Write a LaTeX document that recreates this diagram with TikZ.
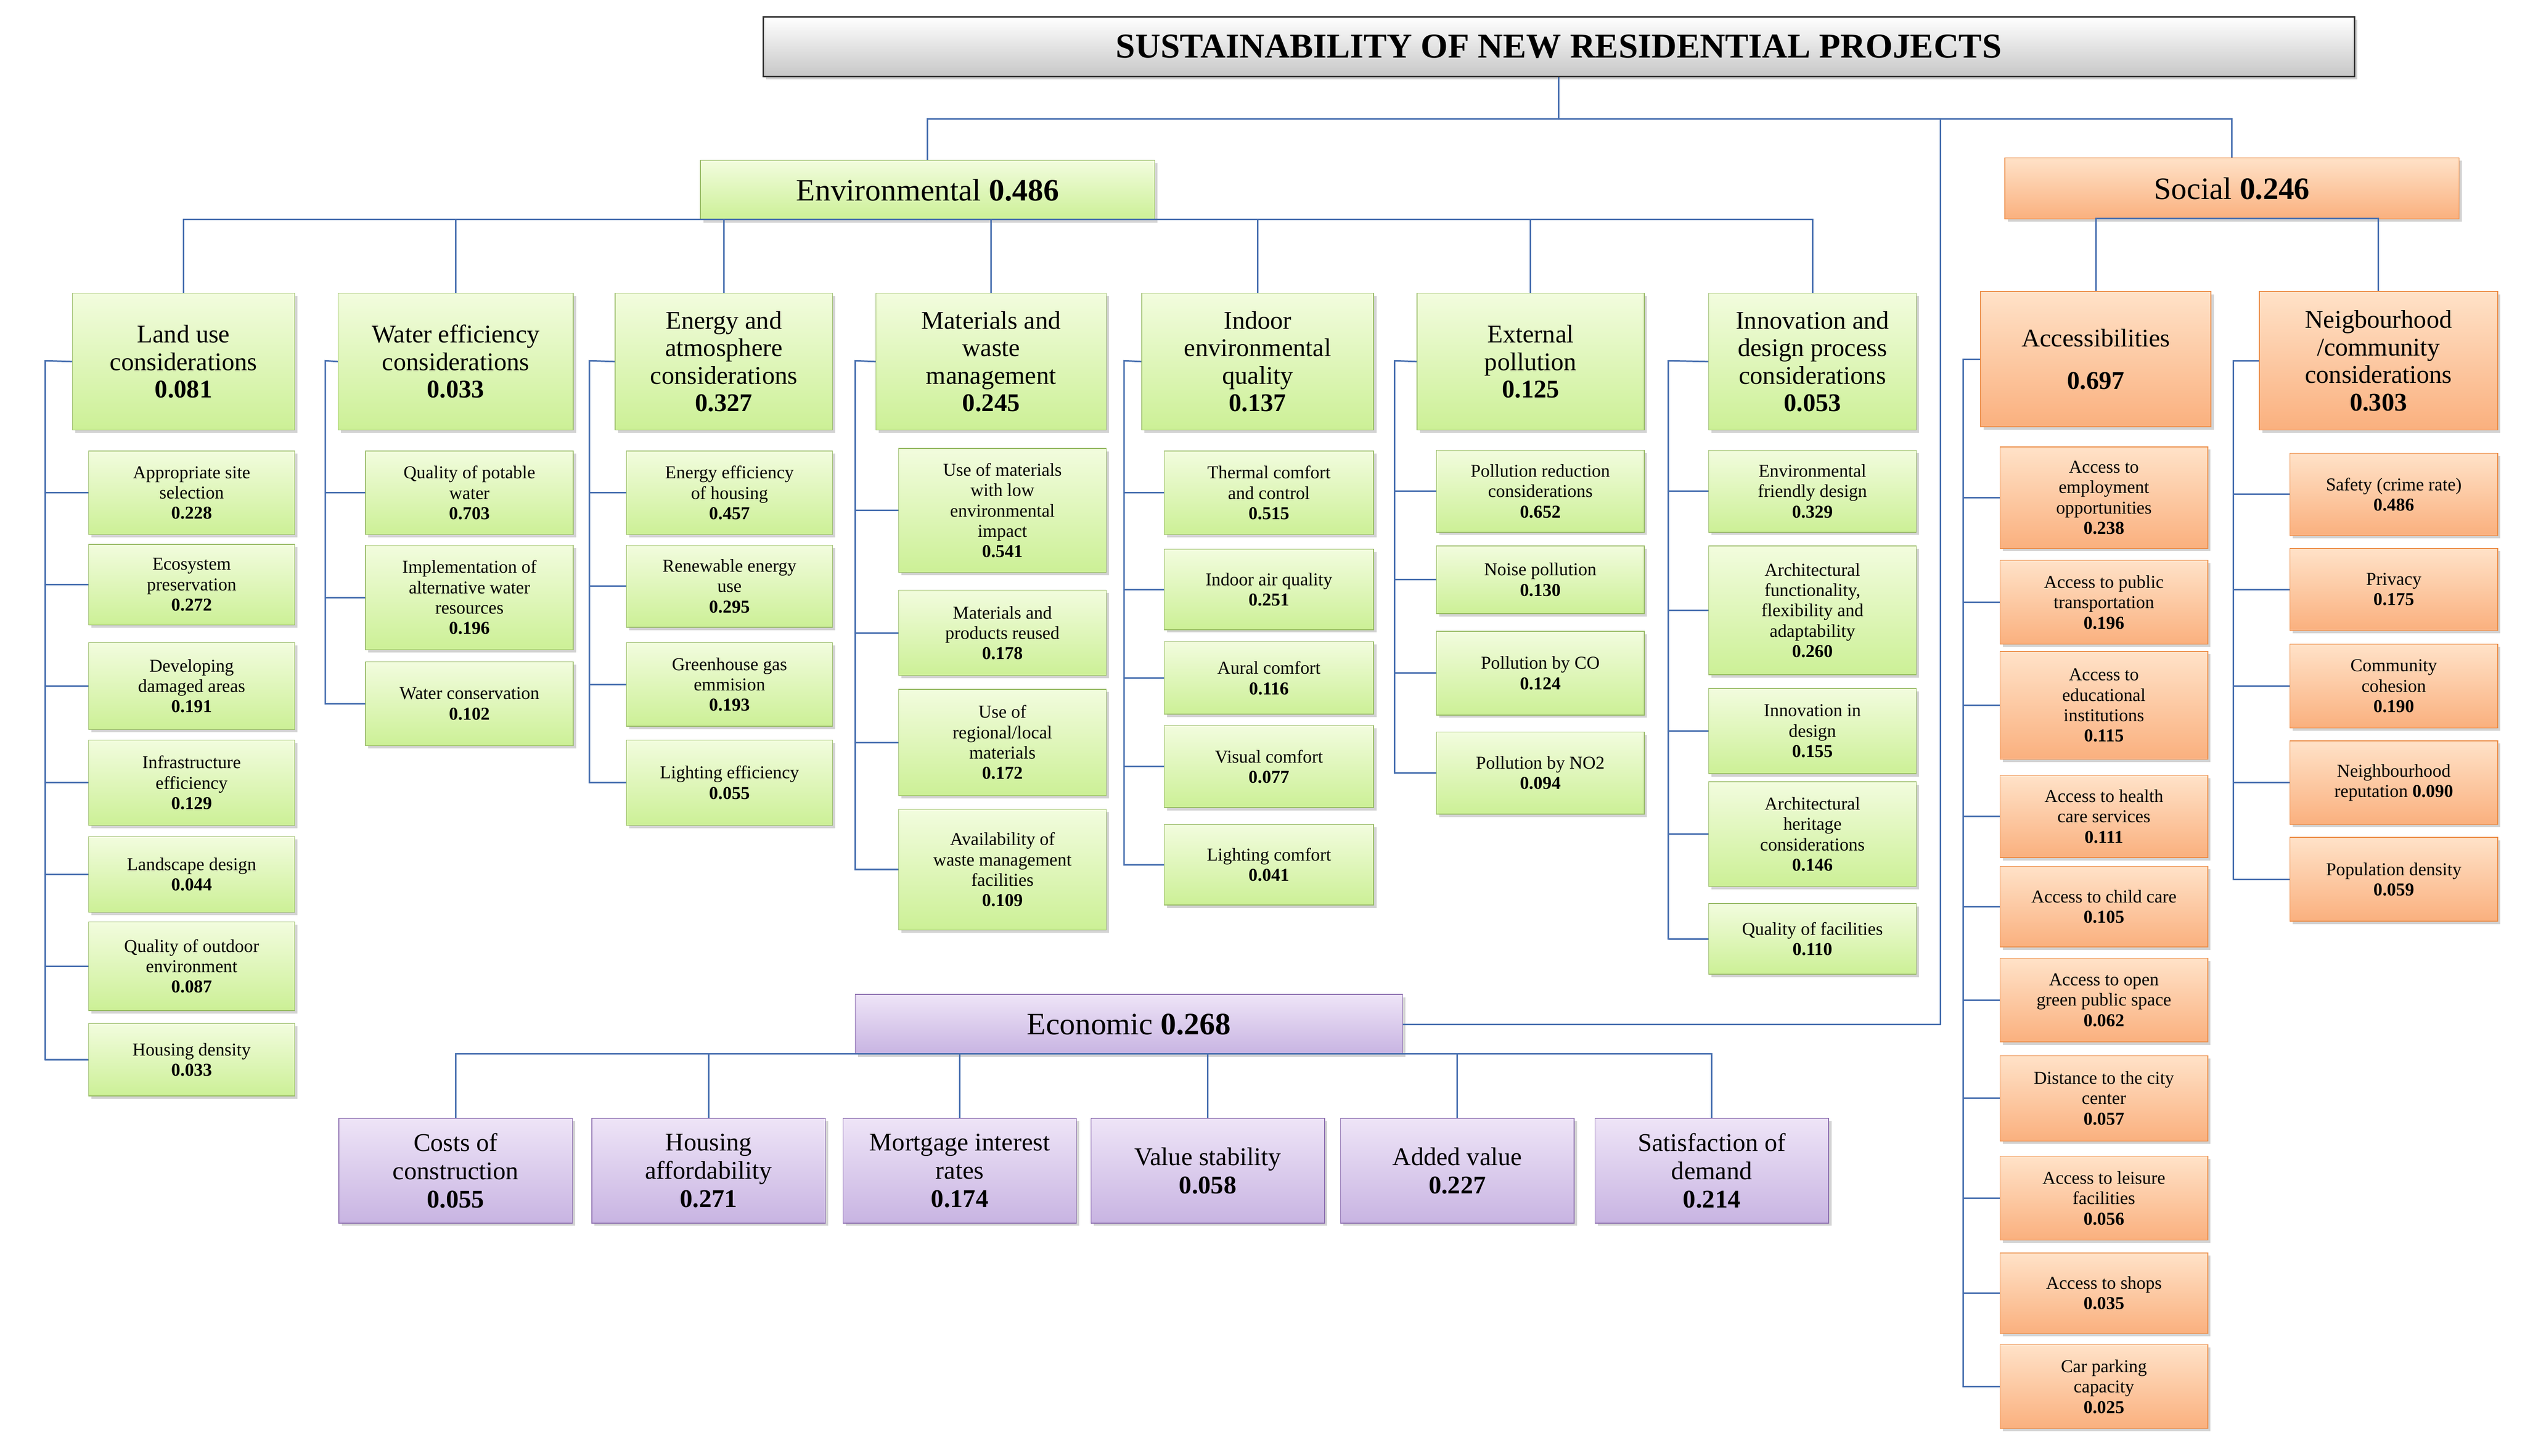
\documentclass[tikz,border=0pt]{standalone}
\usepackage{fontspec}
\setmainfont{Liberation Serif}
\usetikzlibrary{shadows}
\definecolor{envtop}{RGB}{242,252,222}
\definecolor{envbot}{RGB}{204,240,150}
\definecolor{envline}{RGB}{150,185,100}
\definecolor{soctop}{RGB}{255,226,200}
\definecolor{socbot}{RGB}{250,176,126}
\definecolor{socline}{RGB}{235,140,70}
\definecolor{ecotop}{RGB}{238,228,247}
\definecolor{ecobot}{RGB}{200,180,226}
\definecolor{ecoline}{RGB}{140,110,175}
\definecolor{linkblue}{RGB}{70,110,175}
\newcommand\itemfont{\fontsize{9.6}{10.8}\selectfont}
\newcommand\catfont{\fontsize{13.5}{14.6}\selectfont}
\tikzset{
  box/.style={draw, rectangle, align=center, inner sep=1pt,
    drop shadow={shadow xshift=1.5pt, shadow yshift=-1.5pt, opacity=0.35}},
  env/.style={box, draw=envline, top color=envtop, bottom color=envbot},
  soc/.style={box, draw=socline, top color=soctop, bottom color=socbot},
  eco/.style={box, draw=ecoline, top color=ecotop, bottom color=ecobot},
  link/.style={draw=linkblue, line width=0.8pt},
}
\begin{document}
\begin{tikzpicture}[x=0.03cm, y=-0.03cm]
\useasboundingbox (0,0) rectangle (1568,904);
% title and main branches
\node[box, draw=black!80, thick, top color=white, bottom color=black!22,
  minimum width=988*0.03cm, minimum height=37*0.03cm,
  font=\fontsize{18.5}{20}\selectfont\bfseries] (title) at (968,29) {SUSTAINABILITY OF NEW RESIDENTIAL PROJECTS};
\node[env, minimum width=282*0.03cm, minimum height=37*0.03cm, font=\fontsize{16.5}{18}\selectfont]
  (envir) at (576,118) {Environmental \textbf{0.486}};
\node[soc, minimum width=282*0.03cm, minimum height=38*0.03cm, font=\fontsize{16.5}{18}\selectfont]
  (social) at (1386,117) {Social \textbf{0.246}};
\node[eco, minimum width=340*0.03cm, minimum height=37*0.03cm, font=\fontsize{16.5}{18}\selectfont]
  (econ) at (701,636) {Economic \textbf{0.268}};
\coordinate (t1) at (968,74);
\coordinate (t2) at (1205,74);
\draw[link] (title.south) -- (t1);
\draw[link] (envir.north) |- (t1) -| (social.north);
\draw[link] (t2) |- (econ.east);

% environmental categories
\foreach \n/\x/\w/\t in {
  lu/114/138/{Land use\\considerations\\\textbf{0.081}},
  wa/283/146/{Water efficiency\\considerations\\\textbf{0.033}},
  en/449.5/135/{Energy and\\atmosphere\\considerations\\\textbf{0.327}},
  ma/615.5/143/{Materials and\\waste\\management\\\textbf{0.245}},
  in/781/144/{Indoor\\environmental\\quality\\\textbf{0.137}},
  ex/950.5/141/{External\\pollution\\\textbf{0.125}},
  id/1125.5/129/{Innovation and\\design process\\considerations\\\textbf{0.053}}}{
  \node[env, minimum width=\w*0.03cm, minimum height=85*0.03cm, font=\catfont] (\n) at (\x,224.5) {\t};
  \draw[link] (envir.south) -- ++(0,-20*0.03) -| (\n.north);
}

% land use
\coordinate (luB) at (28,224);
\foreach \y/\h/\t [count=\i] in {
  306/52/{Appropriate site\\selection\\\textbf{0.228}},
  363/50/{Ecosystem\\preservation\\\textbf{0.272}},
  426/54/{Developing\\damaged areas\\\textbf{0.191}},
  486/53/{Infrastructure\\efficiency\\\textbf{0.129}},
  543/47/{Landscape design\\\textbf{0.044}},
  600/55/{Quality of outdoor\\environment\\\textbf{0.087}},
  658/45/{Housing density\\\textbf{0.033}}}{
  \node[env, minimum width=128*0.03cm, minimum height=\h*0.03cm, font=\itemfont] (lu\i) at (119,\y) {\t};
  \draw[link] (luB |- lu\i.west) -- (lu\i.west);
}
\draw[link] (lu.west) -- (luB) |- (lu7.west);

% water
\coordinate (waB) at (202,224);
\foreach \y/\h/\t [count=\i] in {
  306/52/{Quality of potable\\water\\\textbf{0.703}},
  371/65/{Implementation of\\alternative water\\resources\\\textbf{0.196}},
  437/52/{Water conservation\\\textbf{0.102}}}{
  \node[env, minimum width=129*0.03cm, minimum height=\h*0.03cm, font=\itemfont] (wa\i) at (291.5,\y) {\t};
  \draw[link] (waB |- wa\i.west) -- (wa\i.west);
}
\draw[link] (wa.west) -- (waB) |- (wa3.west);

% energy
\coordinate (enB) at (366,224);
\foreach \y/\h/\t [count=\i] in {
  306/52/{Energy efficiency\\of housing\\\textbf{0.457}},
  364/51/{Renewable energy\\use\\\textbf{0.295}},
  425/52/{Greenhouse gas\\emmision\\\textbf{0.193}},
  486/53/{Lighting efficiency\\\textbf{0.055}}}{
  \node[env, minimum width=128*0.03cm, minimum height=\h*0.03cm, font=\itemfont] (en\i) at (453,\y) {\t};
  \draw[link] (enB |- en\i.west) -- (en\i.west);
}
\draw[link] (en.west) -- (enB) |- (en4.west);

% materials
\coordinate (maB) at (531,224);
\foreach \y/\h/\t [count=\i] in {
  317/77/{Use of materials\\with low\\environmental\\impact\\\textbf{0.541}},
  393/53/{Materials and\\products reused\\\textbf{0.178}},
  461/66/{Use of\\regional/local\\materials\\\textbf{0.172}},
  540/75/{Availability of\\waste management\\facilities\\\textbf{0.109}}}{
  \node[env, minimum width=129*0.03cm, minimum height=\h*0.03cm, font=\itemfont] (ma\i) at (622.5,\y) {\t};
  \draw[link] (maB |- ma\i.west) -- (ma\i.west);
}
\draw[link] (ma.west) -- (maB) |- (ma4.west);

% indoor
\coordinate (inB) at (698,224);
\foreach \y/\h/\t [count=\i] in {
  306/52/{Thermal comfort\\and control\\\textbf{0.515}},
  366/50/{Indoor air quality\\\textbf{0.251}},
  421/45/{Aural comfort\\\textbf{0.116}},
  476/51/{Visual comfort\\\textbf{0.077}},
  537/50/{Lighting comfort\\\textbf{0.041}}}{
  \node[env, minimum width=130*0.03cm, minimum height=\h*0.03cm, font=\itemfont] (in\i) at (788,\y) {\t};
  \draw[link] (inB |- in\i.west) -- (in\i.west);
}
\draw[link] (in.west) -- (inB) |- (in5.west);

% external
\coordinate (exB) at (866,224);
\foreach \y/\h/\t [count=\i] in {
  305/51/{Pollution reduction\\considerations\\\textbf{0.652}},
  360/42/{Noise pollution\\\textbf{0.130}},
  418/52/{Pollution by CO\\\textbf{0.124}},
  480/51/{Pollution by NO2\\\textbf{0.094}}}{
  \node[env, minimum width=129*0.03cm, minimum height=\h*0.03cm, font=\itemfont] (ex\i) at (956.5,\y) {\t};
  \draw[link] (exB |- ex\i.west) -- (ex\i.west);
}
\draw[link] (ex.west) -- (exB) |- (ex4.west);

% innovation
\coordinate (idB) at (1036,224);
\foreach \y/\h/\t [count=\i] in {
  305/51/{Environmental\\friendly design\\\textbf{0.329}},
  379/80/{Architectural\\functionality,\\flexibility and\\adaptability\\\textbf{0.260}},
  454/53/{Innovation in\\design\\\textbf{0.155}},
  518/65/{Architectural\\heritage\\considerations\\\textbf{0.146}},
  583/44/{Quality of facilities\\\textbf{0.110}}}{
  \node[env, minimum width=129*0.03cm, minimum height=\h*0.03cm, font=\itemfont] (id\i) at (1125.5,\y) {\t};
  \draw[link] (idB |- id\i.west) -- (id\i.west);
}
\draw[link] (id.west) -- (idB) |- (id5.west);

% social categories
\node[soc, minimum width=143*0.03cm, minimum height=84*0.03cm, font=\catfont] (ac) at (1301.5,223) {Accessibilities\\[8pt]\textbf{0.697}};
\node[soc, minimum width=148*0.03cm, minimum height=86*0.03cm, font=\catfont] (ne) at (1477,224) {Neigbourhood\\/community\\considerations\\\textbf{0.303}};
\draw[link] (social.south) -- ++(0,-21*0.03) coordinate (s1);
\draw[link] (ac.north) |- (s1) -| (ne.north);

% accessibilities
\coordinate (acB) at (1219,223);
\foreach \y/\h/\t [count=\i] in {
  309/63/{Access to\\employment\\opportunities\\\textbf{0.238}},
  374/52/{Access to public\\transportation\\\textbf{0.196}},
  438/67/{Access to\\educational\\institutions\\\textbf{0.115}},
  507/51/{Access to health\\care services\\\textbf{0.111}},
  563/50/{Access to child care\\\textbf{0.105}},
  621/52/{Access to open\\green public space\\\textbf{0.062}},
  682/53/{Distance to the city\\center\\\textbf{0.057}},
  744/52/{Access to leisure\\facilities\\\textbf{0.056}},
  803/50/{Access to shops\\\textbf{0.035}},
  861/52/{Car parking\\capacity\\\textbf{0.025}}}{
  \node[soc, minimum width=129*0.03cm, minimum height=\h*0.03cm, font=\itemfont] (ac\i) at (1306.5,\y) {\t};
  \draw[link] (acB |- ac\i.west) -- (ac\i.west);
}
\draw[link] (ac.west) -- (acB) |- (ac10.west);

% neighbourhood
\coordinate (neB) at (1387,224);
\foreach \y/\h/\t [count=\i] in {
  307/51/{Safety (crime rate)\\\textbf{0.486}},
  366/51/{Privacy\\\textbf{0.175}},
  426/52/{Community\\cohesion\\\textbf{0.190}},
  486/52/{Neighbourhood\\reputation \textbf{0.090}},
  546/52/{Population density\\\textbf{0.059}}}{
  \node[soc, minimum width=129*0.03cm, minimum height=\h*0.03cm, font=\itemfont] (ne\i) at (1486.5,\y) {\t};
  \draw[link] (neB |- ne\i.west) -- (ne\i.west);
}
\draw[link] (ne.west) -- (neB) |- (ne5.west);

% economic
\draw[link] (econ.south) -- ++(0,-16*0.03) coordinate (e1);
\foreach \n/\x/\t in {
  co/283/{Costs of\\construction\\\textbf{0.055}},
  ha/440/{Housing\\affordability\\\textbf{0.271}},
  mo/596/{Mortgage interest\\rates\\\textbf{0.174}},
  va/750/{Value stability\\\textbf{0.058}},
  ad/905/{Added value\\\textbf{0.227}},
  sa/1063/{Satisfaction of\\demand\\\textbf{0.214}}}{
  \node[eco, minimum width=145*0.03cm, minimum height=65*0.03cm, font=\fontsize{13.5}{15}\selectfont] (\n) at (\x,727) {\t};
  \draw[link] (e1) -| (\n.north);
}
\end{tikzpicture}
\end{document}
